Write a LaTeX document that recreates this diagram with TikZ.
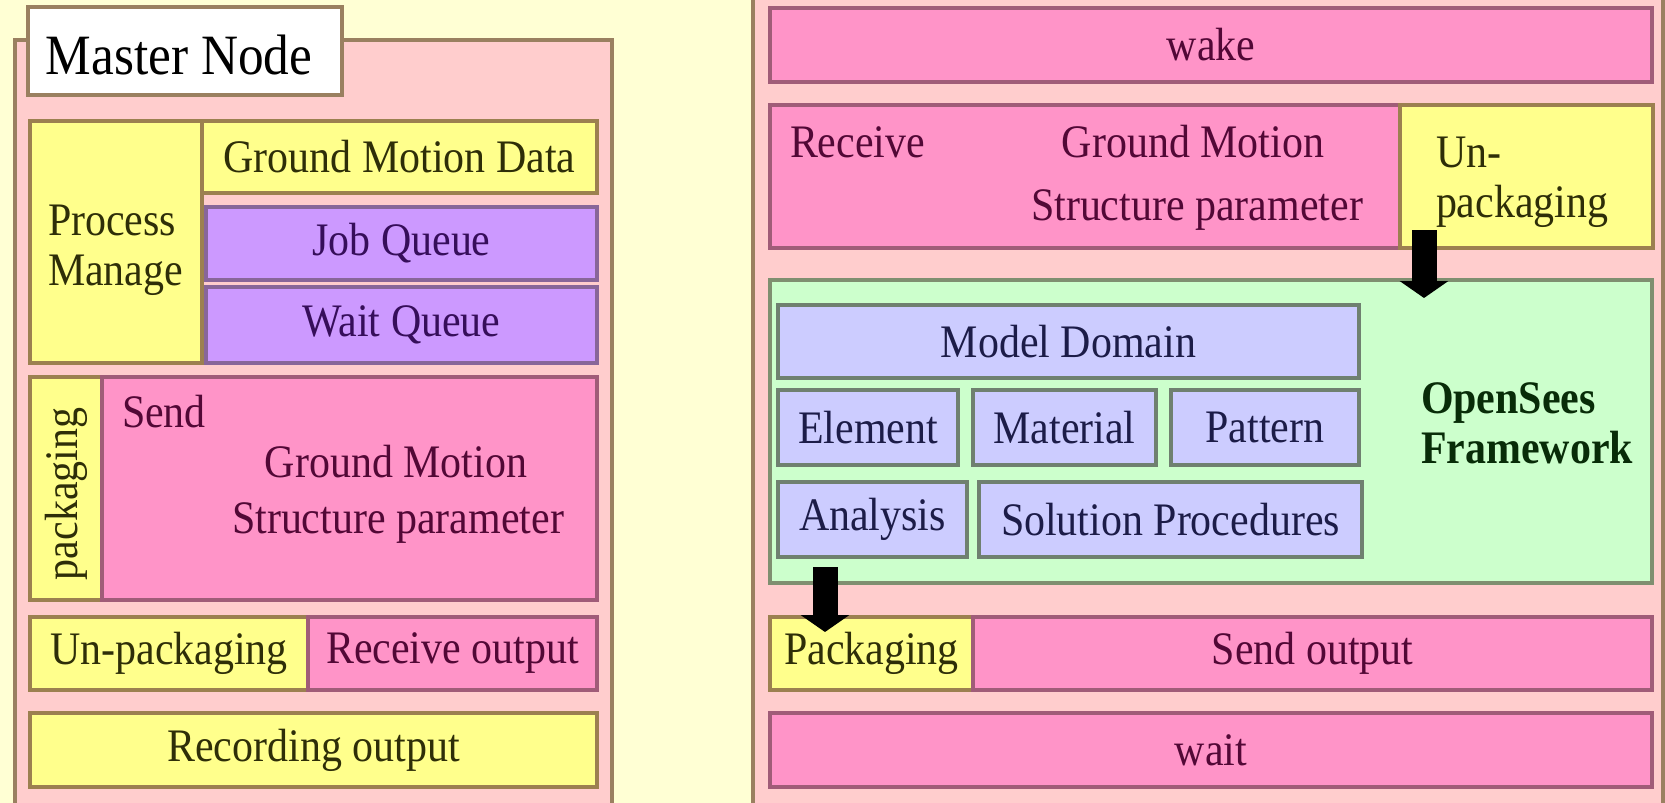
\documentclass[tikz,border=0pt]{standalone}
\usepackage{fontspec}
\setmainfont{Liberation Serif}[FakeStretch=0.9]
\usetikzlibrary{arrows.meta}
\definecolor{bg}{HTML}{FFFFD4}
\definecolor{outerpink}{HTML}{FFCDCD}
\definecolor{outerline}{HTML}{9A8060}
\definecolor{yel}{HTML}{FFFF8C}
\definecolor{yelline}{HTML}{9C8050}
\definecolor{pnk}{HTML}{FF94C8}
\definecolor{pnkline}{HTML}{A05C78}
\definecolor{pur}{HTML}{CC99FF}
\definecolor{purline}{HTML}{886699}
\definecolor{lav}{HTML}{CCCCFF}
\definecolor{lavline}{HTML}{6F8070}
\definecolor{grn}{HTML}{CCFFCC}
\definecolor{grnline}{HTML}{7F8F70}
\definecolor{yeltext}{HTML}{2E2E08}
\definecolor{pnktext}{HTML}{520836}
\definecolor{purtext}{HTML}{360E5A}
\definecolor{lavtext}{HTML}{1C1C48}
\definecolor{grntext}{HTML}{082C08}
\newcommand\mybox[7]{\node[#6, minimum width={(#4-#2)*0.5pt}, minimum height={(#5-#3)*0.5pt}] (#1) at ({(#2+#4)/2},{(#3+#5)/2}) {#7};}
\tikzset{
  box/.style={draw, rectangle, line width=1.6pt},
  ob/.style={box, fill=outerpink, draw=outerline},
  yb/.style={box, fill=yel, draw=yelline, text=yeltext},
  pb/.style={box, fill=pnk, draw=pnkline, text=pnktext},
  ub/.style={box, fill=pur, draw=purline, text=purtext},
  lb/.style={box, fill=lav, draw=lavline, text=lavtext},
  gb/.style={box, fill=grn, draw=grnline, text=grntext},
  blockarrow/.style={line width=12.5pt, black, -{Triangle[width=24pt,length=8.5pt]}},
}
\begin{document}
\begin{tikzpicture}[x=0.5pt,y=-0.5pt, every node/.style={inner sep=0pt,outer sep=0pt}, font=\fontsize{23.3}{27}\selectfont]
\useasboundingbox (0,0) rectangle (1665,803);
\clip (0,0) rectangle (1665,803);
\fill[bg] (0,0) rectangle (1665,803);
% ---------- left: master node ----------
\mybox{lout}{15}{40}{612}{840}{ob}{}
\mybox{mn}{28}{7}{342}{95}{box, fill=white, draw=outerline}{}
\node[anchor=base west, font=\fontsize{28.5}{32}\selectfont, text=black] (mnt) at (46,74) {Master Node};
\mybox{pm}{30}{121}{202}{363}{yb}{}
\node[anchor=base west, text=yeltext] (pmt1) at (48,235) {Process};
\node[anchor=base west, text=yeltext] (pmt2) at (48,285) {Manage};
\mybox{gmd}{202}{121}{597}{193}{yb}{Ground Motion Data}
\mybox{jq}{206}{207}{597}{280}{ub}{Job Queue}
\mybox{wq}{206}{287}{597}{363}{ub}{Wait Queue}
\mybox{pk}{30}{377}{102}{600}{yb}{}
\node[rotate=90, text=yeltext] (pkt) at (66,494) {packaging};
\mybox{send}{102}{377}{597}{600}{pb}{}
\node[anchor=base west, text=pnktext] (sendt) at (122,427) {Send};
\node[anchor=base, text=pnktext] (sgm) at (396,477) {Ground Motion};
\node[anchor=base, text=pnktext] (ssp) at (398,533) {Structure parameter};
\mybox{unpk}{30}{617}{308}{690}{yb}{Un-packaging}
\mybox{recv}{308}{617}{597}{690}{pb}{Receive output}
\mybox{rec}{30}{713}{597}{787}{yb}{Recording output}
% ---------- right: slave node ----------
\mybox{rout}{753}{-30}{1663}{840}{ob}{}
\mybox{wake}{770}{8}{1652}{82}{pb}{wake}
\mybox{rcv}{770}{105}{1400}{248}{pb}{}
\node[anchor=base west, text=pnktext] (rcvt) at (790,157) {Receive};
\node[anchor=base, text=pnktext] (rgm) at (1193,157) {Ground Motion};
\node[anchor=base, text=pnktext] (rsp) at (1197,220) {Structure parameter};
\mybox{runpk}{1400}{105}{1653}{248}{yb}{}
\node[anchor=base west, text=yeltext] (runpk1) at (1436,167) {Un-};
\node[anchor=base west, text=yeltext] (runpk2) at (1436,217) {packaging};
\mybox{osf}{770}{280}{1652}{583}{gb}{}
\node[anchor=base west, text=grntext, font=\fontsize{23.3}{27}\selectfont\bfseries] (osf1) at (1421,413) {OpenSees};
\node[anchor=base west, text=grntext, font=\fontsize{23.3}{27}\selectfont\bfseries] (osf2) at (1421,463) {Framework};
\mybox{md}{778}{305}{1359}{378}{lb}{Model Domain}
\mybox{el}{778}{390}{958}{465}{lb}{Element}
\mybox{mat}{973}{390}{1156}{465}{lb}{Material}
\mybox{pat}{1171}{390}{1359}{465}{lb}{Pattern}
\mybox{an}{778}{482}{967}{557}{lb}{Analysis}
\mybox{sp}{979}{482}{1362}{557}{lb}{Solution Procedures}
\mybox{pkg}{770}{617}{973}{690}{yb}{Packaging}
\mybox{sout}{973}{617}{1652}{690}{pb}{Send output}
\mybox{wait}{770}{713}{1652}{787}{pb}{wait}
% ---------- arrows ----------
\coordinate (a1s) at (1424,230);
\coordinate (a1e) at (1424,298);
\draw[blockarrow] (a1s) -- (a1e);
\coordinate (a2s) at (825,567);
\coordinate (a2e) at (825,632);
\draw[blockarrow] (a2s) -- (a2e);
\end{tikzpicture}
\end{document}
